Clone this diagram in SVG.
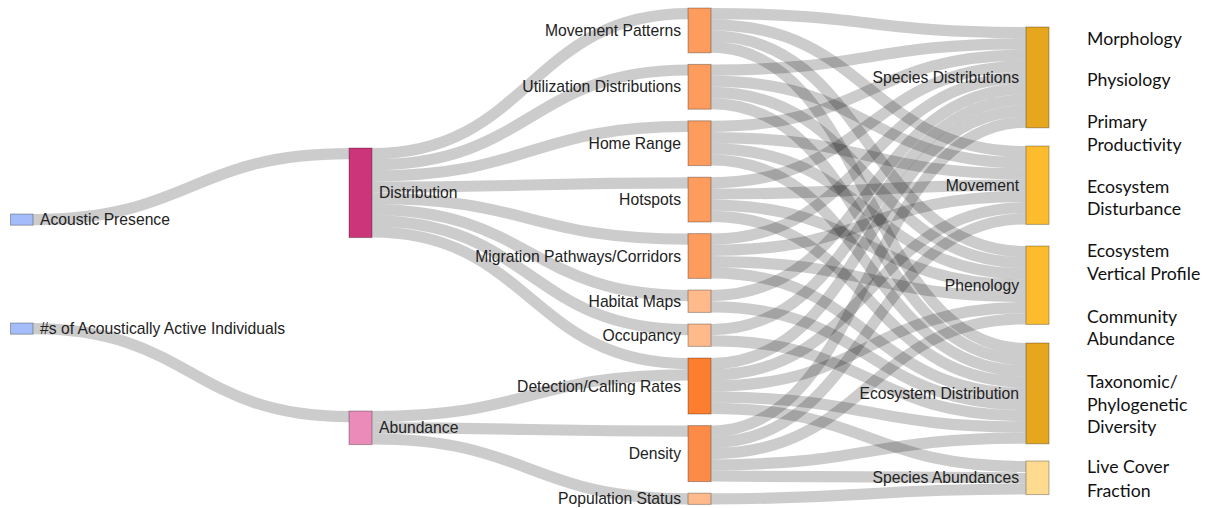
<svg xmlns="http://www.w3.org/2000/svg" width="1209" height="508" viewBox="0 0 1209 508">
<style>
.lk{fill:none;stroke:#000;stroke-opacity:0.2;stroke-width:11.2}
.nd{stroke:#000;stroke-opacity:0.3;stroke-width:1}
.lb{font-family:"Liberation Sans",Arial,sans-serif;font-size:15.7px;fill:#222}
.le{text-anchor:end}
.rt{font-family:Lato,"Open Sans",sans-serif;font-size:17.7px;fill:#111}
</style>
<rect width="1209" height="508" fill="#fff"/>
<g id="links">
<path class="lk" d="M33 219.6C191 219.6 191 153.6 349 153.6"/>
<path class="lk" d="M33 328.6C191 328.6 191 416.6 349 416.6"/>
<path class="lk" d="M372 153.6C530 153.6 530 13.6 688 13.6"/>
<path class="lk" d="M372 164.8C530 164.8 530 70 688 70"/>
<path class="lk" d="M372 176C530 176 530 126.4 688 126.4"/>
<path class="lk" d="M372 187.2C530 187.2 530 182.8 688 182.8"/>
<path class="lk" d="M372 198.4C530 198.4 530 239.2 688 239.2"/>
<path class="lk" d="M372 209.6C530 209.6 530 295.6 688 295.6"/>
<path class="lk" d="M372 220.8C530 220.8 530 329.6 688 329.6"/>
<path class="lk" d="M372 232C530 232 530 363.6 688 363.6"/>
<path class="lk" d="M372 416.6C530 416.6 530 374.8 688 374.8"/>
<path class="lk" d="M372 427.8C530 427.8 530 431.2 688 431.2"/>
<path class="lk" d="M372 439C530 439 530 498.8 688 498.8"/>
<path class="lk" d="M711 13.6C868.5 13.6 868.5 32.6 1026 32.6"/>
<path class="lk" d="M711 24.8C868.5 24.8 868.5 151.6 1026 151.6"/>
<path class="lk" d="M711 36C868.5 36 868.5 251.6 1026 251.6"/>
<path class="lk" d="M711 47.2C868.5 47.2 868.5 348.6 1026 348.6"/>
<path class="lk" d="M711 70C868.5 70 868.5 43.8 1026 43.8"/>
<path class="lk" d="M711 81.2C868.5 81.2 868.5 162.8 1026 162.8"/>
<path class="lk" d="M711 92.4C868.5 92.4 868.5 262.8 1026 262.8"/>
<path class="lk" d="M711 103.6C868.5 103.6 868.5 359.8 1026 359.8"/>
<path class="lk" d="M711 126.4C868.5 126.4 868.5 55 1026 55"/>
<path class="lk" d="M711 137.6C868.5 137.6 868.5 174 1026 174"/>
<path class="lk" d="M711 148.8C868.5 148.8 868.5 274 1026 274"/>
<path class="lk" d="M711 160C868.5 160 868.5 371 1026 371"/>
<path class="lk" d="M711 182.8C868.5 182.8 868.5 66.2 1026 66.2"/>
<path class="lk" d="M711 194C868.5 194 868.5 185.2 1026 185.2"/>
<path class="lk" d="M711 205.2C868.5 205.2 868.5 285.2 1026 285.2"/>
<path class="lk" d="M711 216.4C868.5 216.4 868.5 382.2 1026 382.2"/>
<path class="lk" d="M711 239.2C868.5 239.2 868.5 77.4 1026 77.4"/>
<path class="lk" d="M711 250.4C868.5 250.4 868.5 196.4 1026 196.4"/>
<path class="lk" d="M711 261.6C868.5 261.6 868.5 296.4 1026 296.4"/>
<path class="lk" d="M711 272.8C868.5 272.8 868.5 393.4 1026 393.4"/>
<path class="lk" d="M711 295.6C868.5 295.6 868.5 88.6 1026 88.6"/>
<path class="lk" d="M711 306.8C868.5 306.8 868.5 404.6 1026 404.6"/>
<path class="lk" d="M711 329.6C868.5 329.6 868.5 99.8 1026 99.8"/>
<path class="lk" d="M711 340.8C868.5 340.8 868.5 415.8 1026 415.8"/>
<path class="lk" d="M711 363.6C868.5 363.6 868.5 111 1026 111"/>
<path class="lk" d="M711 374.8C868.5 374.8 868.5 207.6 1026 207.6"/>
<path class="lk" d="M711 386C868.5 386 868.5 307.6 1026 307.6"/>
<path class="lk" d="M711 397.2C868.5 397.2 868.5 427 1026 427"/>
<path class="lk" d="M711 408.4C868.5 408.4 868.5 466.6 1026 466.6"/>
<path class="lk" d="M711 431.2C868.5 431.2 868.5 122.2 1026 122.2"/>
<path class="lk" d="M711 442.4C868.5 442.4 868.5 218.8 1026 218.8"/>
<path class="lk" d="M711 453.6C868.5 453.6 868.5 318.8 1026 318.8"/>
<path class="lk" d="M711 464.8C868.5 464.8 868.5 438.2 1026 438.2"/>
<path class="lk" d="M711 476C868.5 476 868.5 477.8 1026 477.8"/>
<path class="lk" d="M711 498.8C868.5 498.8 868.5 489 1026 489"/>
</g>
<g id="n-acoustic-presence"><rect class="nd" x="10.5" y="214" width="22.5" height="11.2" fill="#a4bcfa"/><text class="lb" x="40" y="225.2">Acoustic Presence</text></g>
<g id="n-active-individuals"><rect class="nd" x="10.5" y="323" width="22.5" height="11.2" fill="#a4bcfa"/><text class="lb" x="40" y="334.2">#s of Acoustically Active Individuals</text></g>
<g id="n-distribution"><rect class="nd" x="349" y="148" width="23" height="89.6" fill="#cd357a"/><text class="lb" x="379" y="198.4">Distribution</text></g>
<g id="n-abundance"><rect class="nd" x="349" y="411" width="23" height="33.6" fill="#ea8bb9"/><text class="lb" x="379" y="433.4">Abundance</text></g>
<g id="n-movement-patterns"><rect class="nd" x="688" y="8" width="23" height="44.8" fill="#fe9c5e"/><text class="lb le" x="681" y="36">Movement Patterns</text></g>
<g id="n-utilization"><rect class="nd" x="688" y="64.4" width="23" height="44.8" fill="#fe9c5e"/><text class="lb le" x="681" y="92.4">Utilization Distributions</text></g>
<g id="n-home-range"><rect class="nd" x="688" y="120.8" width="23" height="44.8" fill="#fe9c5e"/><text class="lb le" x="681" y="148.8">Home Range</text></g>
<g id="n-hotspots"><rect class="nd" x="688" y="177.2" width="23" height="44.8" fill="#fe9c5e"/><text class="lb le" x="681" y="205.2">Hotspots</text></g>
<g id="n-migration"><rect class="nd" x="688" y="233.6" width="23" height="44.8" fill="#fe9c5e"/><text class="lb le" x="681" y="261.6">Migration Pathways/Corridors</text></g>
<g id="n-habitat-maps"><rect class="nd" x="688" y="290" width="23" height="22.4" fill="#ffba8c"/><text class="lb le" x="681" y="306.8">Habitat Maps</text></g>
<g id="n-occupancy"><rect class="nd" x="688" y="324" width="23" height="22.4" fill="#ffba8c"/><text class="lb le" x="681" y="340.8">Occupancy</text></g>
<g id="n-detection"><rect class="nd" x="688" y="358" width="23" height="56" fill="#fd7e2f"/><text class="lb le" x="681" y="391.6">Detection/Calling Rates</text></g>
<g id="n-density"><rect class="nd" x="688" y="425.6" width="23" height="56" fill="#fd8b48"/><text class="lb le" x="681" y="459.2">Density</text></g>
<g id="n-population-status"><rect class="nd" x="688" y="493.2" width="23" height="11.2" fill="#ffba8c"/><text class="lb le" x="681" y="504.4">Population Status</text></g>
<g id="n-species-distributions"><rect class="nd" x="1026" y="27" width="23" height="100.8" fill="#e6a61d"/><text class="lb le" x="1019" y="83">Species Distributions</text></g>
<g id="n-movement"><rect class="nd" x="1026" y="146" width="23" height="78.4" fill="#fdbc2e"/><text class="lb le" x="1019" y="190.8">Movement</text></g>
<g id="n-phenology"><rect class="nd" x="1026" y="246" width="23" height="78.4" fill="#fdbc2e"/><text class="lb le" x="1019" y="290.8">Phenology</text></g>
<g id="n-ecosystem-distribution"><rect class="nd" x="1026" y="343" width="23" height="100.8" fill="#e6a61d"/><text class="lb le" x="1019" y="399">Ecosystem Distribution</text></g>
<g id="n-species-abundances"><rect class="nd" x="1026" y="461" width="23" height="33.6" fill="#ffdb90"/><text class="lb le" x="1019" y="483.4">Species Abundances</text></g>
<g id="ebv-labels">
<text class="rt" x="1087" y="45">Morphology</text>
<text class="rt" x="1087" y="86">Physiology</text>
<text class="rt" x="1087" y="128">Primary</text>
<text class="rt" x="1087" y="151">Productivity</text>
<text class="rt" x="1087" y="193">Ecosystem</text>
<text class="rt" x="1087" y="215">Disturbance</text>
<text class="rt" x="1087" y="257">Ecosystem</text>
<text class="rt" x="1087" y="280">Vertical Profile</text>
<text class="rt" x="1087" y="323">Community</text>
<text class="rt" x="1087" y="345">Abundance</text>
<text class="rt" x="1087" y="388">Taxonomic/</text>
<text class="rt" x="1087" y="411">Phylogenetic</text>
<text class="rt" x="1087" y="433">Diversity</text>
<text class="rt" x="1087" y="473">Live Cover</text>
<text class="rt" x="1087" y="497">Fraction</text>
</g>
</svg>
